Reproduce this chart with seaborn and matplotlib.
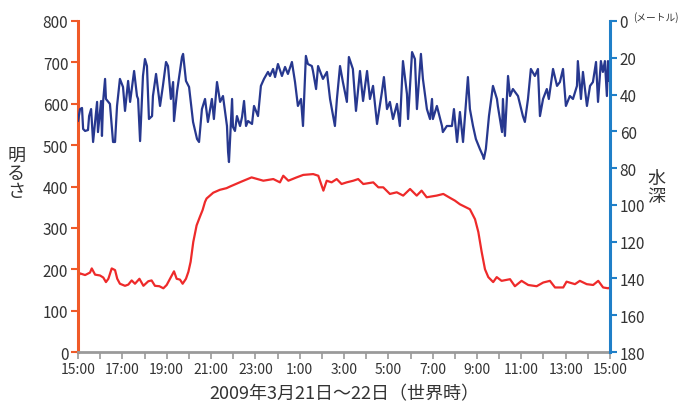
import matplotlib
matplotlib.use("Agg")
import matplotlib.pyplot as plt
import seaborn as sns
import pandas as pd
import numpy as np

# heures écoulées depuis 15:00 (21 mars 2009, UT)
depth_h = [0.00, 0.09, 0.18, 0.23, 0.32, 0.45, 0.50, 0.59, 0.68, 0.86, 0.90, 1.04, 1.08, 1.13,
           1.22, 1.26, 1.44, 1.58, 1.67, 1.76, 1.89, 2.03, 2.12, 2.26, 2.35, 2.53, 2.66, 2.71,
           2.80, 2.93, 3.02, 3.11, 3.20, 3.34, 3.38, 3.52, 3.70, 3.83, 3.97, 4.06, 4.19, 4.29,
           4.33, 4.47, 4.56, 4.69, 4.74, 4.87, 5.01, 5.19, 5.37, 5.46, 5.59, 5.73, 5.86, 6.04,
           6.13, 6.27, 6.41, 6.54, 6.72, 6.77, 6.81, 6.95, 6.99, 7.08, 7.17, 7.31, 7.40, 7.49,
           7.58, 7.67, 7.85, 7.94, 8.12, 8.25, 8.39, 8.57, 8.66, 8.80, 8.89, 9.02, 9.20, 9.34,
           9.47, 9.65, 9.79, 9.92, 10.06, 10.15, 10.28, 10.37, 10.55, 10.60, 10.74, 10.83, 11.05,
           11.23, 11.37, 11.59, 11.68, 11.82, 11.95, 12.13, 12.22, 12.40, 12.54, 12.72, 12.86,
           13.04, 13.17, 13.31, 13.49, 13.71, 13.80, 13.94, 14.07, 14.21, 14.39, 14.52, 14.66,
           14.84, 14.89, 15.07, 15.20, 15.29, 15.47, 15.56, 15.74, 15.88, 15.97, 16.01, 16.19,
           16.42, 16.46, 16.64, 16.87, 16.96, 17.10, 17.23, 17.37, 17.59, 17.68, 17.82, 17.95,
           18.13, 18.27, 18.31, 18.40, 18.54, 18.72, 18.90, 18.94, 19.13, 19.17, 19.26, 19.40,
           19.49, 19.62, 19.85, 20.07, 20.16, 20.30, 20.43, 20.61, 20.75, 20.84, 20.98, 21.15,
           21.24, 21.43, 21.61, 21.74, 21.88, 22.01, 22.19, 22.33, 22.51, 22.55, 22.69, 22.78,
           22.96, 23.10, 23.23, 23.37, 23.46, 23.59, 23.68, 23.77, 23.86, 23.91, 23.95]
depth_m = [54.4, 47.9, 47.3, 58.7, 59.8, 59.3, 51.7, 47.9, 65.8, 44.0, 60.4, 43.5, 62.5, 44.0,
           31.5, 42.4, 45.1, 65.8, 65.8, 46.2, 31.5, 35.9, 48.9, 32.6, 44.0, 27.2, 40.8, 42.4,
           65.3, 29.9, 20.7, 24.5, 53.3, 51.7, 40.8, 28.8, 46.2, 35.3, 22.3, 24.5, 42.4, 33.2,
           54.4, 38.1, 30.5, 19.6, 17.9, 32.6, 35.9, 54.9, 64.2, 65.8, 47.9, 42.4, 54.9, 42.4,
           53.3, 33.2, 44.0, 40.8, 57.1, 71.2, 76.7, 42.4, 57.6, 59.8, 51.7, 57.1, 52.2, 43.5,
           57.1, 54.4, 56.0, 46.2, 51.7, 35.3, 31.5, 27.7, 29.9, 26.1, 30.5, 23.4, 29.9, 25.0,
           28.8, 22.3, 33.2, 46.2, 42.4, 57.1, 19.0, 23.4, 24.5, 27.2, 37.0, 24.5, 31.5,
           27.7, 42.4, 57.1, 42.4, 24.5, 33.2, 44.0, 19.6, 26.1, 48.9, 27.2, 43.5,
           27.2, 42.4, 35.3, 56.0, 38.6, 30.5, 47.9, 44.0, 53.3, 45.1, 57.1, 21.8,
           39.7, 53.3, 16.9, 20.7, 47.9, 17.9, 31.5, 47.9, 53.3, 42.4, 53.3, 46.2,
           57.1, 60.4, 57.1, 57.1, 47.9, 65.8, 49.5, 65.8, 30.5, 47.9, 57.1, 64.2,
           69.6, 73.4, 75.0, 69.6, 51.7, 35.3, 42.4, 46.2, 60.4, 42.4, 62.5, 29.9,
           40.8, 37.0, 40.8, 51.7, 54.9, 42.4, 26.1, 29.9, 26.1, 51.7, 42.4, 37.0,
           42.4, 26.1, 35.3, 33.2, 26.1, 46.2, 40.8, 42.4, 35.3, 21.8, 42.4, 27.7,
           46.2, 35.3, 33.2, 22.3, 44.0, 21.8, 27.7, 21.8, 40.8, 21.8, 32.6]

light_h = [0.00, 0.09, 0.32, 0.54, 0.62, 0.77, 0.99, 1.14, 1.26, 1.37, 1.52, 1.67, 1.77, 1.89,
           2.12, 2.27, 2.42, 2.57, 2.77, 2.95, 3.17, 3.32, 3.47, 3.67, 3.85, 4.00, 4.15, 4.33,
           4.45, 4.60, 4.72, 4.87, 4.98, 5.08, 5.20, 5.35, 5.50, 5.62, 5.73, 5.80, 6.10, 6.40,
           6.70, 6.86, 7.38, 7.83, 8.36, 8.81, 9.11, 9.26, 9.49, 9.86, 10.16, 10.61, 10.84,
           11.07, 11.22, 11.44, 11.67, 11.89, 12.12, 12.42, 12.64, 12.87, 13.32, 13.55, 13.77,
           14.07, 14.38, 14.67, 14.98, 15.28, 15.50, 15.73, 16.18, 16.48, 16.80, 17.00, 17.23,
           17.68, 17.91, 18.06, 18.21, 18.36, 18.51, 18.73, 18.89, 19.11, 19.49, 19.71, 20.01,
           20.31, 20.69, 20.99, 21.29, 21.52, 21.89, 22.04, 22.42, 22.64, 22.95, 23.24, 23.47,
           23.69, 23.92, 24.00]
light_v = [182, 190, 186, 192, 202, 187, 185, 180, 169, 177, 202, 198, 177, 165,
           160, 163, 173, 165, 177, 160, 171, 173, 160, 159, 154, 162, 177, 195,
           177, 175, 165, 177, 194, 218, 266, 306, 327, 343, 363, 371, 385, 392,
           396, 400, 412, 422, 414, 418, 410, 426, 414, 422, 428, 430, 426,
           390, 414, 410, 418, 406, 410, 414, 418, 406, 410, 398, 398,
           382, 386, 378, 394, 378, 390, 374, 378, 382, 372, 366, 357,
           345, 321, 290, 242, 200, 181, 169, 181, 172, 176, 159, 172,
           162, 159, 168, 172, 156, 156, 170, 164, 172, 164, 162, 172,
           156, 154, 156]

xtick_labels = ["15:00", "17:00", "19:00", "21:00", "23:00", "1:00", "3:00", "5:00",
                "7:00", "9:00", "11:00", "13:00", "15:00"]

depth_df = pd.DataFrame({"h": depth_h, "depth": depth_m})
light_df = pd.DataFrame({"h": light_h, "light": light_v})

sns.set_style("white")
plt.rcParams['font.family'] = ['Noto Sans CJK JP', 'DejaVu Sans']

orange = "#f05a28"
blue_ax = "#1f7fc8"
grey = "#9a9a9a"
txt = "#333333"

fig = plt.figure(figsize=(6.85, 4.14), dpi=100)
ax = fig.add_axes([0.1139, 0.1473, 0.7766, 0.7996])
ax2 = ax.twinx()

sns.lineplot(data=light_df, x="h", y="light", ax=ax, color="#ee2a2a", linewidth=1.6)
sns.lineplot(data=depth_df, x="h", y="depth", ax=ax2, color="#27388f", linewidth=1.6)

ax.set_xlim(0, 24)
ax.set_ylim(0, 800)
ax2.set_ylim(180, 0)

ax.set_yticks(range(0, 801, 100))
ax2.set_yticks(range(0, 181, 20))
ax.set_xticks(range(0, 25, 2))
ax.set_xticks(range(1, 24, 2), minor=True)
ax.set_xticklabels(xtick_labels)

for a in (ax, ax2):
    for s in a.spines.values():
        s.set_visible(False)
ax.spines["left"].set_visible(True)
ax.spines["left"].set_color(orange)
ax.spines["left"].set_linewidth(2.2)
ax.spines["bottom"].set_visible(True)
ax.spines["bottom"].set_color(grey)
ax.spines["bottom"].set_linewidth(2)
ax2.spines["right"].set_visible(True)
ax2.spines["right"].set_color(blue_ax)
ax2.spines["right"].set_linewidth(2.2)

ax.tick_params(axis="y", which="major", left=True, length=5, width=1.5, color=orange,
               labelsize=11, labelcolor=txt, pad=2)
ax.tick_params(axis="x", which="both", bottom=True, length=5, width=1.2, color=grey,
               labelsize=10, labelcolor=txt, pad=2)
ax2.tick_params(axis="y", right=True, length=5, width=1.5, color=blue_ax,
                labelsize=11, labelcolor=txt, pad=2)

ax.set_ylabel("")
ax2.set_ylabel("")
ax.set_xlabel("2009年3月21日〜22日（世界時）", fontsize=13, color=txt, labelpad=6)

fig.text(0.024, 0.58, "明\nる\nさ", fontsize=13, color=txt, ha="center", va="center",
         linespacing=1.0)
fig.text(0.958, 0.545, "水\n深", fontsize=13, color=txt, ha="center", va="center",
         linespacing=1.0)
fig.text(0.925, 0.958, "(メートル)", fontsize=7, color=txt, ha="left", va="center")

fig.savefig("out.png", dpi=100)
